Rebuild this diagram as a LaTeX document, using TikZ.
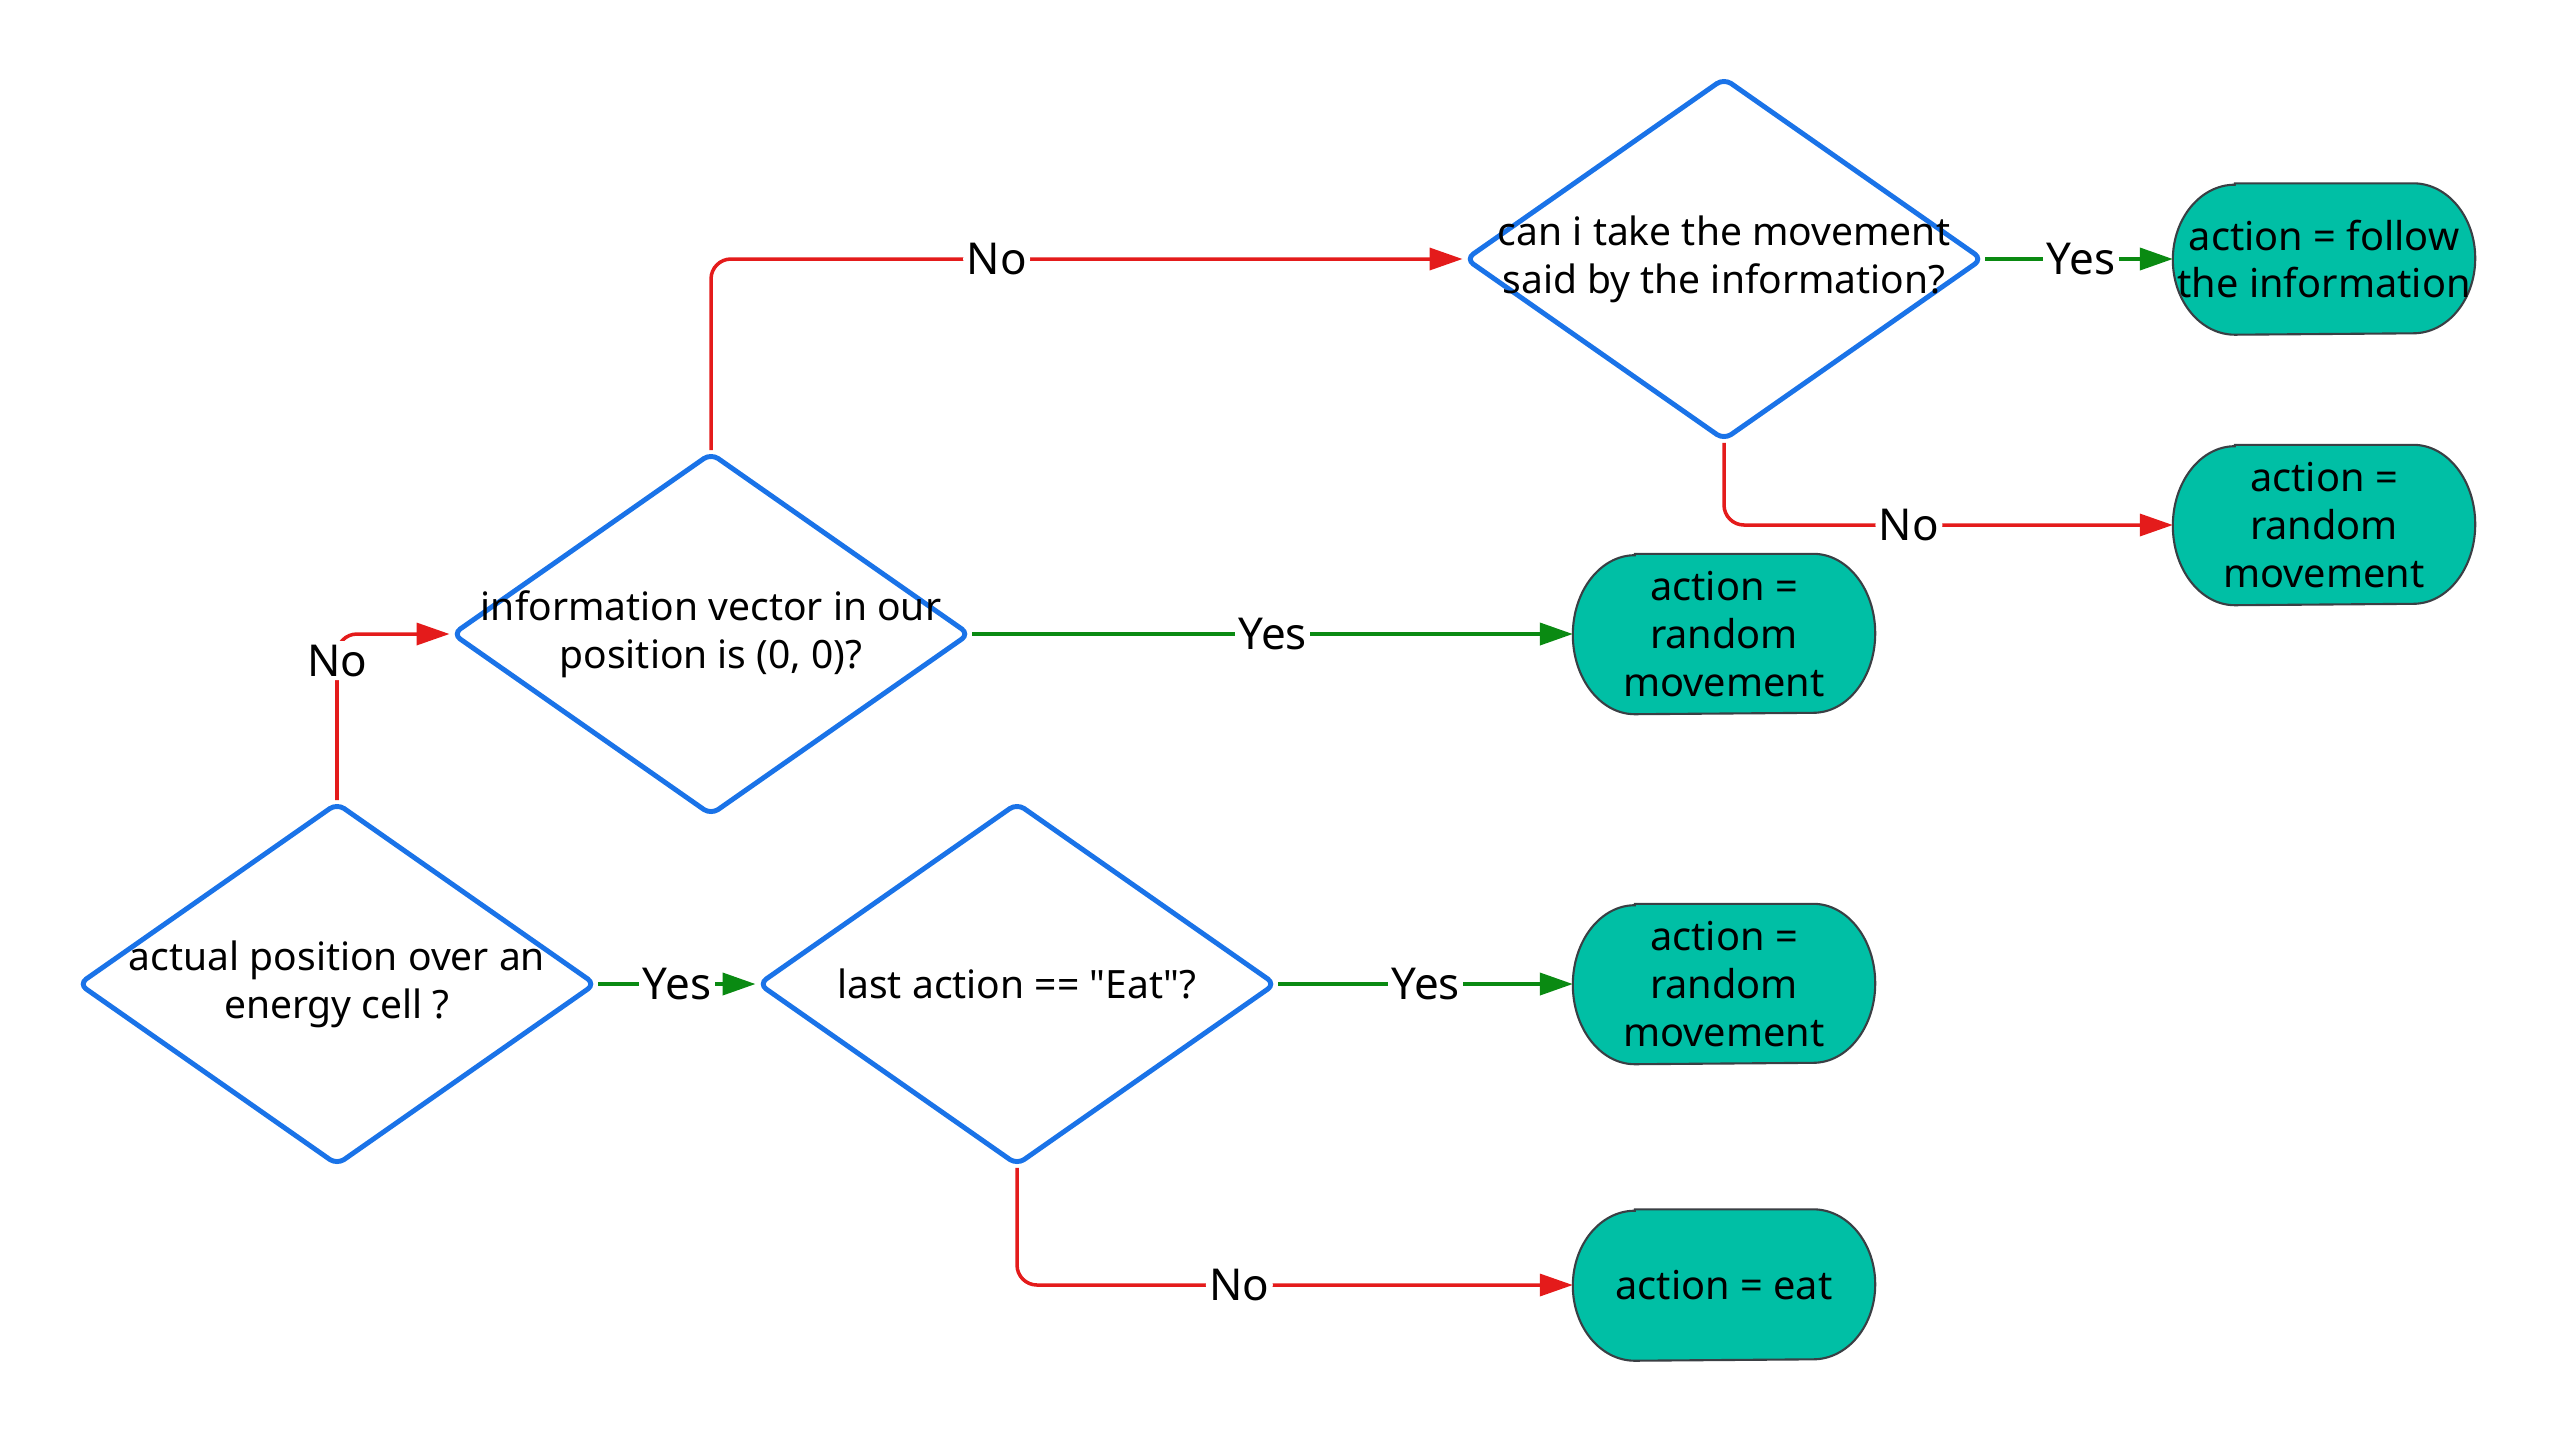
\documentclass[tikz,border=0pt]{standalone}
\usepackage{fontspec}
\setmainfont{Noto Sans}[Ligatures=TeXOff]
\usetikzlibrary{shapes.geometric,arrows.meta,backgrounds}

\definecolor{decblue}{HTML}{1A73E8}
\definecolor{termfill}{HTML}{00BFA5}
\definecolor{termline}{HTML}{3A3F44}
\definecolor{yesgreen}{HTML}{0A8A12}
\definecolor{nored}{HTML}{E41B1B}

\tikzset{
  decision/.style={diamond, draw=decblue, line width=1.4pt, rounded corners=2.5pt,
    fill=white, minimum width=5.18cm, minimum height=3.63cm, inner sep=0pt},
  dtext/.style={align=center, font=\fontsize{11.1}{13.6}\selectfont, inner sep=0pt},
  termbox/.style={draw=termline, line width=0.6pt, fill=termfill},
  % flat top and bottom, half-elliptic ends; #1 is the height
  terminal/.style={rectangle, minimum width=3.01cm, minimum height=#1,
    align=center, font=\fontsize{11.3}{13.6}\selectfont, inner sep=0pt,
    append after command={\pgfextra{\let\termnode=\tikzlastnode
      \pgfinterruptpath
      \begin{pgfonlayer}{background}
        \draw[termbox] ([xshift=0.62cm]\termnode.north west)
          -- ([xshift=-0.62cm]\termnode.north east)
          arc[start angle=90, end angle=-90, x radius=0.62cm, y radius={#1/2}]
          -- ([xshift=0.62cm]\termnode.south west)
          arc[start angle=270, end angle=90, x radius=0.62cm, y radius={#1/2}]
          -- cycle;
      \end{pgfonlayer}
      \endpgfinterruptpath}}},
  terminal/.default=1.59cm,
  yesedge/.style={draw=yesgreen, line width=1.1pt,
    -{Triangle[length=0.33cm, width=0.22cm]}},
  noedge/.style={draw=nored, line width=1pt, rounded corners=0.2cm,
    -{Triangle[length=0.33cm, width=0.22cm]}},
  elabel/.style={fill=white, inner sep=1pt, font=\fontsize{12.5}{14}\selectfont}
}

\begin{document}
\begin{tikzpicture}
  \useasboundingbox (0,0) rectangle (25.5,-14.34);

  % decisions
  \node[decision] (d1) at (3.37,-9.84) {};
  \node[dtext] at (d1) {actual position over an\\energy cell ?};
  \node[decision] (d2) at (7.11,-6.34) {};
  \node[dtext] at (d2) {information vector in our\\position is (0, 0)?};
  \node[decision] (d3) at (10.17,-9.84) {};
  \node[dtext] at (d3) {last action == "Eat"?};
  \node[decision] (d4) at (17.24,-2.59) {};
  \node[dtext] at (d4) {can i take the movement\\said by the information?};

  % outcomes
  \node[terminal] (t1) at (17.24,-6.34) {action =\\random\\movement};
  \node[terminal] (t2) at (17.24,-9.84) {action =\\random\\movement};
  \node[terminal=1.5cm] (t3) at (17.24,-12.85) {action = eat};
  \node[terminal=1.5cm] (t4) at (23.24,-2.59) {action = follow\\the information};
  \node[terminal] (t5) at (23.24,-5.25) {action =\\random\\movement};

  % connectors
  \draw[noedge] (d1.north) |- node[elabel, pos=0.42] {No} (d2.west);
  \draw[yesedge] (d1.east) -- node[elabel] {Yes} (d3.west);
  \draw[yesedge] (d2.east) -- node[elabel] {Yes} (t1.west);
  \draw[noedge] (d2.north) |- node[elabel, pos=0.69] {No} (d4.west);
  \draw[yesedge] (d3.east) -- node[elabel] {Yes} (t2.west);
  \draw[noedge] (d3.south) |- node[elabel, pos=0.70] {No} (t3.west);
  \draw[yesedge] (d4.east) -- node[elabel, pos=0.51] {Yes} (t4.west);
  \draw[noedge] (d4.south) |- node[elabel, pos=0.706] {No} (t5.west);
\end{tikzpicture}
\end{document}
